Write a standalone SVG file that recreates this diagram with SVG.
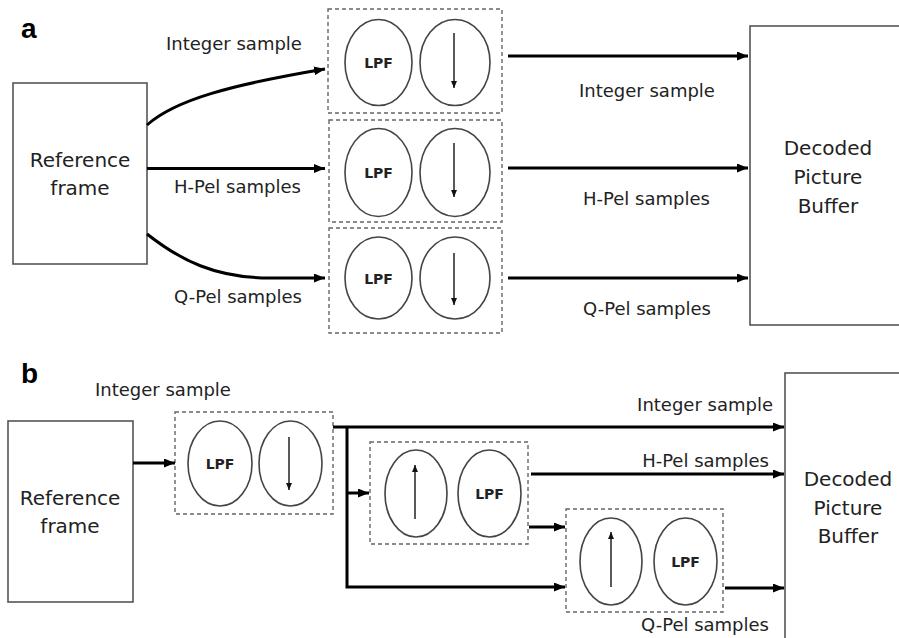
<svg xmlns="http://www.w3.org/2000/svg" width="899" height="638" viewBox="0 0 899 638">
<defs>
<marker id="ah" markerUnits="userSpaceOnUse" markerWidth="11" markerHeight="9" refX="11" refY="4.5" orient="auto"><path d="M0,0 L11,4.5 L0,9 z" fill="#000"/></marker>
<marker id="sa" markerUnits="userSpaceOnUse" markerWidth="7" markerHeight="6" refX="7" refY="3" orient="auto"><path d="M0,0 L7,3 L0,6 z" fill="#111"/></marker>
</defs>
<style>
text{font-family:"DejaVu Sans","Liberation Sans",sans-serif;fill:#222}
.lab{font-size:18px}
.big{font-size:20px;text-anchor:middle}
.lpf{font-size:14px;font-weight:bold;text-anchor:middle}
.pl{font-family:"Liberation Sans",Arial,sans-serif;font-size:28px;font-weight:bold;fill:#000}
.box{fill:#fff;stroke:#555;stroke-width:1.6}
.dash{fill:none;stroke:#666;stroke-width:1.4;stroke-dasharray:4 3}
.ell{fill:#fff;stroke:#444;stroke-width:1.6}
.conn{fill:none;stroke:#000;stroke-width:3;marker-end:url(#ah)}
.line{fill:none;stroke:#000;stroke-width:3}
.sarr{stroke:#222;stroke-width:1.5;marker-end:url(#sa)}
</style>
<rect width="899" height="638" fill="#fff"/>
<text class="pl" x="21" y="38">a</text>
<text class="pl" x="21" y="383">b</text>

<g id="a-ref"><rect class="box" x="13" y="83" width="134" height="181"/><text class="big" x="80" y="167">Reference</text><text class="big" x="80" y="195">frame</text></g>
<g id="a-dpb"><rect class="box" x="750" y="26" width="160" height="299"/><text class="big" x="828" y="155">Decoded</text><text class="big" x="828" y="184">Picture</text><text class="big" x="828" y="213">Buffer</text></g>

<g id="a-f1"><rect class="dash" x="328" y="9" width="174" height="104"/><ellipse class="ell" cx="378.5" cy="62.5" rx="33.5" ry="43"/><text class="lpf" x="378.5" y="68">LPF</text><ellipse class="ell" cx="455" cy="62.5" rx="35" ry="43"/><line class="sarr" x1="454" y1="33" x2="454" y2="88"/></g>
<g id="a-f2"><rect class="dash" x="329" y="120" width="173" height="102"/><ellipse class="ell" cx="378.5" cy="172.5" rx="33.5" ry="44"/><text class="lpf" x="378.5" y="178">LPF</text><ellipse class="ell" cx="455" cy="172.5" rx="35" ry="44"/><line class="sarr" x1="454" y1="143" x2="454" y2="197"/></g>
<g id="a-f3"><rect class="dash" x="329" y="228" width="173" height="105"/><ellipse class="ell" cx="378.5" cy="278" rx="33.5" ry="41"/><text class="lpf" x="378.5" y="284">LPF</text><ellipse class="ell" cx="455" cy="278" rx="35" ry="41"/><line class="sarr" x1="454" y1="253" x2="454" y2="305"/></g>

<g id="b-ref"><rect class="box" x="8" y="421" width="125" height="181"/><text class="big" x="70" y="505">Reference</text><text class="big" x="70" y="533">frame</text></g>
<g id="b-dpb"><rect class="box" x="785" y="373" width="130" height="280"/><text class="big" x="848" y="486">Decoded</text><text class="big" x="848" y="515">Picture</text><text class="big" x="848" y="543">Buffer</text></g>

<g id="b-f1"><rect class="dash" x="175" y="412" width="158" height="102"/><ellipse class="ell" cx="220" cy="463.5" rx="32" ry="42.5"/><text class="lpf" x="220" y="469">LPF</text><ellipse class="ell" cx="290.5" cy="463.5" rx="31.5" ry="42.5"/><line class="sarr" x1="289" y1="437" x2="289" y2="490"/></g>
<g id="b-f2"><rect class="dash" x="370" y="442" width="158" height="102"/><ellipse class="ell" cx="416" cy="493.5" rx="31" ry="43.5"/><line class="sarr" x1="415" y1="519" x2="415" y2="465"/><ellipse class="ell" cx="489.5" cy="493.5" rx="31.5" ry="43.5"/><text class="lpf" x="489.5" y="499">LPF</text></g>
<g id="b-f3"><rect class="dash" x="566" y="509" width="157" height="103"/><ellipse class="ell" cx="611" cy="561.5" rx="31" ry="43.5"/><line class="sarr" x1="611" y1="587" x2="611" y2="532"/><ellipse class="ell" cx="685.5" cy="561.5" rx="31.5" ry="43.5"/><text class="lpf" x="685.5" y="567">LPF</text></g>

<g id="connectors">
<path class="conn" d="M147,125 C175,100 230,85 325,69"/>
<path class="conn" d="M147,168.5 H325"/>
<path class="conn" d="M147,234 C180,260 215,278 270,278 L325,278"/>
<path class="conn" d="M508,56 H748"/>
<path class="conn" d="M508,168 H748"/>
<path class="conn" d="M508,278 H748"/>
<path class="conn" d="M133,463 H175"/>
<path class="conn" d="M333,427 H784"/>
<path class="conn" d="M347,427 V587 H565"/>
<path class="conn" d="M347,493 H369"/>
<path class="conn" d="M531,474 H784"/>
<path class="conn" d="M529,527 H565"/>
<path class="conn" d="M725,588 H784"/>
</g>

<g id="labels">
<text class="lab" x="166" y="50">Integer sample</text>
<text class="lab" x="174" y="193">H-Pel samples</text>
<text class="lab" x="174" y="303">Q-Pel samples</text>
<text class="lab" x="579" y="97">Integer sample</text>
<text class="lab" x="583" y="205">H-Pel samples</text>
<text class="lab" x="583" y="315">Q-Pel samples</text>
<text class="lab" x="95" y="396">Integer sample</text>
<text class="lab" x="773" y="411" text-anchor="end">Integer sample</text>
<text class="lab" x="769" y="467" text-anchor="end">H-Pel samples</text>
<text class="lab" x="769" y="631" text-anchor="end">Q-Pel samples</text>
</g>
</svg>
